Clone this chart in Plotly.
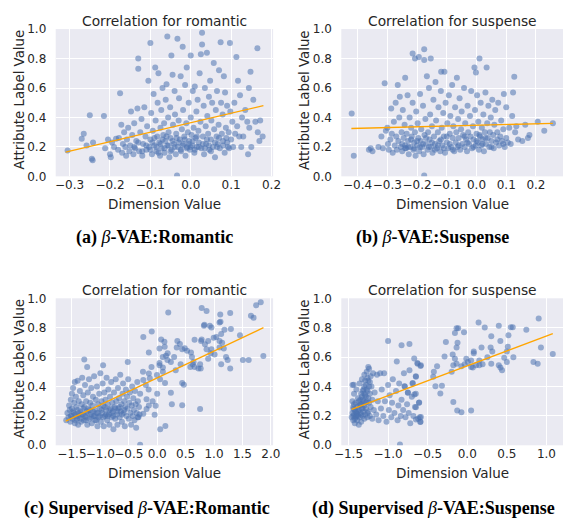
import plotly.graph_objects as go

W, H = 571, 525

# ---------------- data ----------------
a_points = [
    (-0.305,0.175),(-0.27,0.255),(-0.265,0.29),(-0.258,0.21),(-0.25,0.415),(-0.245,0.12),(-0.243,0.11),(-0.242,0.23),
    (-0.215,0.41),(-0.212,0.19),(-0.205,0.25),(-0.2,0.15),(-0.198,0.13),(-0.195,0.23),(-0.19,0.2),(-0.185,0.255),
    (-0.18,0.18),(-0.178,0.26),(-0.175,0.565),(-0.172,0.35),(-0.17,0.16),(-0.168,0.22),(-0.165,0.3),(-0.162,0.2),
    (-0.16,0.14),(-0.158,0.25),(-0.155,0.33),(-0.152,0.17),(-0.15,0.21),(-0.148,0.44),(-0.145,0.28),(-0.142,0.15),
    (-0.14,0.36),(-0.138,0.19),(-0.135,0.24),(-0.132,0.46),(-0.13,0.8),(-0.13,0.73),(-0.128,0.17),(-0.125,0.3),
    (-0.122,0.39),(-0.12,0.14),(-0.118,0.22),(-0.115,0.47),(-0.112,0.27),(-0.11,0.18),(-0.108,0.34),(-0.105,0.65),
    (-0.103,0.2),(-0.1,0.905),(-0.1,0.25),(-0.098,0.43),(-0.096,0.15),(-0.094,0.31),(-0.092,0.56),(-0.09,0.21),
    (-0.088,0.74),(-0.087,0.38),(-0.085,0.17),(-0.083,0.27),(-0.082,0.5),(-0.08,0.7),(-0.078,0.23),(-0.076,0.14),
    (-0.075,0.33),(-0.073,0.45),(-0.072,0.19),(-0.07,0.6),(-0.068,0.28),(-0.066,0.36),(-0.065,0.16),(-0.063,0.24),
    (-0.062,0.52),(-0.06,0.625),(-0.058,0.95),(-0.058,0.21),(-0.056,0.4),(-0.055,0.3),(-0.053,0.13),(-0.051,0.47),
    (-0.05,0.26),(-0.048,0.82),(-0.047,0.18),(-0.045,0.69),(-0.044,0.35),(-0.042,0.22),(-0.04,0.58),(-0.039,0.42),
    (-0.037,0.15),(-0.036,0.29),(-0.034,0.005),(-0.033,0.935),(-0.032,0.2),(-0.03,0.38),(-0.029,0.53),(-0.027,0.25),
    (-0.025,0.68),(-0.024,0.17),(-0.022,0.32),(-0.02,0.88),(-0.019,0.45),(-0.018,0.22),(-0.016,0.27),(-0.014,0.62),
    (-0.013,0.14),(-0.011,0.36),(-0.01,0.74),(-0.009,0.2),(-0.007,0.3),(-0.005,0.5),(-0.004,0.24),(-0.002,0.18),
    (0.0,0.82),(0.0,0.4),(0.002,0.28),(0.004,0.21),(0.005,0.58),(0.007,0.33),(0.009,0.16),(0.01,0.61),(0.012,0.26),
    (0.014,0.44),(0.015,0.2),(0.017,0.52),(0.019,0.31),(0.02,0.23),(0.022,0.7),(0.024,0.37),(0.025,0.83),(0.026,0.19),
    (0.028,0.975),(0.028,0.895),(0.03,0.27),(0.032,0.48),(0.033,0.15),(0.035,0.6),(0.037,0.34),(0.038,0.22),(0.04,0.84),
    (0.041,0.41),(0.043,0.29),(0.045,0.54),(0.046,0.18),(0.048,0.65),(0.05,0.25),(0.051,0.38),(0.053,0.5),(0.055,0.2),
    (0.057,0.77),(0.058,0.32),(0.06,0.13),(0.062,0.45),(0.064,0.27),(0.065,0.58),(0.067,0.22),(0.069,0.35),(0.07,0.72),
    (0.072,0.19),(0.074,0.91),(0.075,0.5),(0.077,0.29),(0.079,0.42),(0.08,0.24),(0.082,0.68),(0.084,0.16),(0.085,0.57),
    (0.087,0.33),(0.088,0.26),(0.09,0.48),(0.092,0.2),(0.094,0.3),(0.097,0.905),(0.098,0.44),(0.1,0.25),(0.103,0.37),
    (0.105,0.2),(0.108,0.5),(0.11,0.29),(0.113,0.81),(0.115,0.34),(0.117,0.65),(0.12,0.27),(0.122,0.55),(0.125,0.2),
    (0.127,0.4),(0.13,0.27),(0.135,0.45),(0.14,0.37),(0.142,0.15),(0.144,0.6),(0.145,0.33),(0.148,0.71),(0.15,0.2),
    (0.155,0.52),(0.16,0.37),(0.165,0.87),(0.166,0.3),(0.17,0.24),(0.172,0.38),(0.178,0.27),
    (-0.14,0.2),(-0.13,0.23),(-0.12,0.17),(-0.11,0.21),(-0.1,0.18),(-0.095,0.23),(-0.09,0.26),(-0.085,0.2),(-0.08,0.16),
    (-0.075,0.22),(-0.07,0.25),(-0.065,0.19),(-0.06,0.27),(-0.055,0.21),(-0.05,0.17),(-0.045,0.24),(-0.04,0.2),
    (-0.035,0.26),(-0.03,0.23),(-0.025,0.18),(-0.02,0.21),(-0.015,0.25),(-0.01,0.19),(-0.005,0.22),(0.0,0.2),
    (0.005,0.24),(0.01,0.18),(0.015,0.27),(0.02,0.2),(0.03,0.22),(0.035,0.19),(0.04,0.25),(0.045,0.21),(0.05,0.17),
    (0.06,0.23),(0.065,0.2),(0.07,0.26),(0.08,0.21),(0.09,0.23),(0.095,0.19),
]

b_points = [
    (-0.42,0.427),(-0.413,0.14),(-0.362,0.18),(-0.356,0.19),(-0.35,0.17),(-0.33,0.2),(-0.32,0.27),(-0.315,0.19),
    (-0.309,0.632),(-0.305,0.31),(-0.3,0.33),(-0.298,0.22),(-0.295,0.18),(-0.29,0.25),(-0.287,0.46),(-0.285,0.29),
    (-0.282,0.16),(-0.278,0.37),(-0.275,0.21),(-0.272,0.5),(-0.27,0.27),(-0.268,0.18),(-0.265,0.62),(-0.263,0.24),
    (-0.26,0.4),(-0.258,0.54),(-0.255,0.2),(-0.252,0.3),(-0.25,0.17),(-0.248,0.45),(-0.245,0.26),(-0.242,0.35),
    (-0.24,0.67),(-0.24,0.21),(-0.237,0.19),(-0.235,0.29),(-0.232,0.55),(-0.23,0.24),(-0.228,0.15),(-0.225,0.4),
    (-0.222,0.2),(-0.22,0.33),(-0.218,0.27),(-0.215,0.835),(-0.215,0.5),(-0.212,0.18),(-0.21,0.23),(-0.207,0.8),
    (-0.207,0.3),(-0.205,0.14),(-0.203,0.44),(-0.2,0.21),(-0.198,0.36),(-0.196,0.26),(-0.194,0.81),(-0.193,0.17),
    (-0.19,0.56),(-0.188,0.24),(-0.186,0.32),(-0.183,0.2),(-0.18,0.48),(-0.178,0.15),(-0.176,0.863),(-0.176,0.79),
    (-0.176,0.005),(-0.175,0.28),(-0.172,0.39),(-0.17,0.22),(-0.167,0.68),(-0.165,0.18),(-0.163,0.3),(-0.16,0.6),
    (-0.158,0.25),(-0.156,0.42),(-0.154,0.8),(-0.153,0.2),(-0.15,0.34),(-0.148,0.16),(-0.145,0.52),(-0.143,0.27),
    (-0.14,0.22),(-0.138,0.64),(-0.136,0.38),(-0.133,0.19),(-0.13,0.3),(-0.128,0.47),(-0.125,0.24),(-0.122,0.17),
    (-0.12,0.58),(-0.119,0.71),(-0.117,0.33),(-0.115,0.21),(-0.112,0.43),(-0.11,0.27),(-0.108,0.71),(-0.106,0.16),
    (-0.104,0.5),(-0.1,0.23),(-0.098,0.36),(-0.095,0.19),(-0.093,0.55),(-0.09,0.29),(-0.088,0.41),(-0.085,0.2),
    (-0.082,0.62),(-0.08,0.26),(-0.078,0.34),(-0.075,0.17),(-0.072,0.47),(-0.07,0.23),(-0.068,0.3),(-0.066,0.67),
    (-0.064,0.2),(-0.062,0.39),(-0.06,0.26),(-0.057,0.53),(-0.055,0.18),(-0.052,0.32),(-0.05,0.44),(-0.048,0.22),
    (-0.045,0.28),(-0.042,0.6),(-0.04,0.2),(-0.038,0.36),(-0.035,0.25),(-0.032,0.17),(-0.03,0.48),(-0.028,0.3),
    (-0.025,0.22),(-0.022,0.41),(-0.02,0.27),(-0.018,0.58),(-0.015,0.19),(-0.012,0.34),(-0.01,0.25),(-0.007,0.74),
    (-0.005,0.45),(-0.003,0.21),(-0.002,0.705),(0.0,0.29),(0.002,0.55),(0.004,0.23),(0.006,0.37),(0.008,0.18),
    (0.01,0.8),(0.012,0.27),(0.014,0.5),(0.016,0.21),(0.018,0.33),(0.02,0.25),(0.023,0.42),(0.025,0.17),(0.028,0.3),
    (0.03,0.57),(0.032,0.22),(0.034,0.74),(0.036,0.36),(0.038,0.26),(0.04,0.48),(0.043,0.2),(0.045,0.3),(0.048,0.4),
    (0.05,0.24),(0.053,0.52),(0.056,0.28),(0.058,0.19),(0.06,0.35),(0.063,0.45),(0.066,0.23),(0.07,0.3),(0.073,0.5),
    (0.076,0.21),(0.08,0.27),(0.083,0.38),(0.086,0.24),(0.09,0.32),(0.092,0.56),(0.095,0.2),(0.1,0.47),(0.1,0.26),
    (0.105,0.23),(0.11,0.33),(0.115,0.22),(0.12,0.41),(0.123,0.57),(0.127,0.676),(0.13,0.3),(0.134,0.34),(0.14,0.25),
    (0.154,0.24),(0.164,0.35),(0.173,0.26),(0.178,0.28),(0.206,0.37),(0.228,0.31),(0.257,0.36),
    (-0.25,0.22),(-0.24,0.19),(-0.23,0.2),(-0.22,0.25),(-0.21,0.19),(-0.2,0.24),(-0.19,0.2),(-0.18,0.22),(-0.17,0.26),
    (-0.16,0.2),(-0.15,0.23),(-0.14,0.18),(-0.13,0.21),(-0.12,0.25),(-0.11,0.19),(-0.1,0.27),(-0.09,0.22),(-0.08,0.18),
    (-0.06,0.21),(-0.04,0.27),(-0.03,0.23),(-0.01,0.2),(0.0,0.24),(0.01,0.28),(0.02,0.22),(0.03,0.26),(0.05,0.2),
    (0.07,0.25),(0.09,0.22),
]

c_points = [
    (-1.6,0.17),(-1.283,0.584),(-1.232,0.533),(-0.952,0.544),(-0.518,0.566),(-0.3,0.004),(-0.244,0.736),(-0.096,0.775),
    (-0.147,0.489),(-0.045,0.207),(0.053,0.11),(0.144,0.132),(-0.027,0.269),(0.195,0.903),(0.132,0.67),(0.138,0.423),
    (0.241,0.357),(0.258,0.28),(0.44,0.273),(0.44,0.423),(0.469,0.412),(0.355,0.709),(0.658,0.718),(0.783,0.934),
    (0.869,0.914),(0.823,0.813),(0.772,0.709),(0.755,0.247),(0.766,0.522),(1.097,0.835),(1.285,0.9),(1.11,0.89),
    (1.457,0.749),(1.65,0.881),(1.696,0.868),(1.742,0.952),(1.822,0.974),(1.868,0.608),(1.508,0.581),(1.61,0.581),
    (1.285,0.522),(1.126,0.551),
    (-0.147,0.632),(0.07,0.72),(0.127,0.705),(0.041,0.659),(0.098,0.6),(0.155,0.61),(0.184,0.626),(0.041,0.56),
    (0.041,0.544),(0.1,0.53),(-0.1,0.533),(-0.004,0.478),(-0.13,0.456),(-0.244,0.445),(-0.187,0.313),(-0.147,0.27),
    (-0.187,0.247),(-0.244,0.214),(-0.341,0.19),(0.241,0.566),(0.298,0.6),(0.344,0.665),(0.4,0.69),(0.44,0.654),
    (0.486,0.661),(0.526,0.643),(0.326,0.511),(0.412,0.551),(0.595,0.632),(0.612,0.6),(0.623,0.551),(0.583,0.533),
    (0.64,0.566),(0.658,0.533),(0.726,0.522),(0.755,0.551),(0.783,0.72),(0.84,0.687),(0.897,0.709),(0.869,0.654),
    (0.94,0.626),(0.897,0.588),(0.83,0.82),(0.926,0.813),(0.954,0.802),(0.994,0.731),(1.04,0.736),(0.954,0.654),
    (1.01,0.617),(1.097,0.709),(1.143,0.698),(1.097,0.665),(1.172,0.659),(1.183,0.786),(1.126,0.758),(1.212,0.6),
    (1.24,0.581),(1.297,0.791),(1.114,0.84),
    (-1.58,0.22),(-1.56,0.19),(-1.55,0.27),(-1.54,0.24),(-1.53,0.16),(-1.52,0.31),(-1.51,0.2),(-1.5,0.35),(-1.5,0.25),
    (-1.49,0.18),(-1.48,0.39),(-1.47,0.22),(-1.46,0.29),(-1.45,0.15),(-1.45,0.43),(-1.44,0.21),(-1.43,0.33),
    (-1.42,0.26),(-1.41,0.18),(-1.4,0.44),(-1.4,0.24),(-1.39,0.14),(-1.38,0.3),(-1.37,0.2),(-1.36,0.37),(-1.35,0.23),
    (-1.34,0.16),(-1.33,0.28),(-1.32,0.46),(-1.31,0.21),(-1.3,0.34),(-1.29,0.17),(-1.28,0.26),(-1.27,0.41),(-1.26,0.19),
    (-1.25,0.3),(-1.24,0.23),(-1.23,0.14),(-1.22,0.36),(-1.21,0.25),(-1.2,0.45),(-1.19,0.18),(-1.18,0.29),(-1.17,0.21),
    (-1.16,0.39),(-1.15,0.15),(-1.14,0.27),(-1.13,0.33),(-1.12,0.2),(-1.11,0.47),(-1.1,0.24),(-1.09,0.17),(-1.08,0.31),
    (-1.07,0.22),(-1.06,0.4),(-1.05,0.13),(-1.04,0.28),(-1.03,0.19),(-1.02,0.35),(-1.01,0.25),(-1.0,0.49),(-0.99,0.16),
    (-0.98,0.3),(-0.97,0.22),(-0.96,0.42),(-0.95,0.27),(-0.94,0.13),(-0.93,0.36),(-0.92,0.2),(-0.91,0.31),(-0.9,0.24),
    (-0.89,0.46),(-0.88,0.17),(-0.87,0.28),(-0.86,0.38),(-0.85,0.21),(-0.84,0.14),(-0.83,0.33),(-0.82,0.25),(-0.81,0.43),
    (-0.8,0.19),(-0.79,0.29),(-0.78,0.23),(-0.77,0.11),(-0.76,0.36),(-0.75,0.26),(-0.74,0.18),(-0.73,0.45),(-0.72,0.3),
    (-0.71,0.21),(-0.7,0.14),(-0.69,0.39),(-0.68,0.25),(-0.67,0.32),(-0.66,0.19),(-0.65,0.48),(-0.64,0.23),(-0.63,0.28),
    (-0.62,0.16),(-0.61,0.35),(-0.6,0.42),(-0.59,0.22),(-0.58,0.3),(-0.57,0.13),(-0.56,0.26),(-0.55,0.38),(-0.54,0.2),
    (-0.53,0.33),(-0.52,0.25),(-0.51,0.45),(-0.5,0.18),(-0.49,0.29),(-0.48,0.36),(-0.47,0.22),(-0.46,0.14),(-0.45,0.27),
    (-0.44,0.4),(-0.43,0.2),(-0.42,0.32),(-0.41,0.24),(-0.4,0.17),(-0.39,0.37),(-0.38,0.28),(-0.37,0.12),(-0.36,0.22),
    (-0.35,0.43),(-0.34,0.3),(-0.33,0.19),(-0.32,0.26),(-0.31,0.21),(-0.3,0.35),
    (-1.52,0.2),(-1.48,0.23),(-1.44,0.17),(-1.42,0.2),(-1.38,0.22),(-1.35,0.18),(-1.33,0.21),(-1.3,0.25),(-1.27,0.2),
    (-1.25,0.17),(-1.22,0.22),(-1.19,0.24),(-1.16,0.19),(-1.13,0.23),(-1.1,0.2),(-1.07,0.17),(-1.04,0.22),(-1.01,0.2),
    (-0.98,0.24),(-0.95,0.19),(-0.92,0.26),(-0.9,0.21),(-0.87,0.2),(-0.84,0.24),(-0.8,0.22),(-0.77,0.2),(-0.74,0.25),
    (-0.7,0.23),(-0.66,0.26),(-0.62,0.21),(-0.58,0.24),
    (-0.25,0.5),(-0.2,0.41),(-0.15,0.38),(-0.08,0.3),(0.0,0.35),(0.05,0.45),(0.1,0.5),(0.18,0.58),
]

d_points = [
    (-1.46,0.19),(-1.45,0.22),(-1.45,0.3),(-1.44,0.17),(-1.44,0.26),(-1.43,0.21),(-1.43,0.35),(-1.42,0.15),(-1.42,0.24),
    (-1.41,0.19),(-1.41,0.29),(-1.4,0.22),(-1.4,0.38),(-1.39,0.17),(-1.39,0.26),(-1.38,0.2),(-1.38,0.32),(-1.37,0.14),
    (-1.37,0.24),(-1.36,0.42),(-1.36,0.19),(-1.35,0.28),(-1.35,0.22),(-1.34,0.35),(-1.34,0.16),(-1.33,0.25),(-1.33,0.45),
    (-1.32,0.2),(-1.32,0.31),(-1.31,0.38),(-1.31,0.23),(-1.3,0.48),(-1.3,0.18),(-1.3,0.27),(-1.29,0.34),(-1.29,0.21),
    (-1.28,0.41),(-1.28,0.25),(-1.27,0.5),(-1.27,0.3),(-1.26,0.19),(-1.26,0.37),(-1.25,0.44),(-1.25,0.23),(-1.24,0.52),
    (-1.24,0.29),(-1.23,0.35),(-1.23,0.2),(-1.22,0.47),(-1.22,0.26),(-1.21,0.4),(-1.2,0.31),(-1.2,0.18),(-1.19,0.49),
    (-1.18,0.24),(-1.17,0.36),
    (-1.44,0.2),(-1.42,0.18),(-1.4,0.2),(-1.38,0.23),(-1.36,0.27),(-1.35,0.31),(-1.34,0.28),(-1.33,0.33),(-1.32,0.37),
    (-1.31,0.3),(-1.3,0.4),(-1.29,0.44),(-1.28,0.33),(-1.27,0.38),(-1.26,0.46),(-1.25,0.32),(-1.24,0.4),(-1.23,0.43),
    (-1.41,0.23),(-1.39,0.21),(-1.37,0.3),(-1.43,0.28),(-1.45,0.41),(-1.34,0.21),(-1.32,0.25),(-1.3,0.35),(-1.28,0.29),
    (-1.26,0.22),(-1.439,0.247),(-1.434,0.412),(-1.25,0.533),
    (-1.15,0.21),(-1.14,0.48),(-1.13,0.3),(-1.12,0.17),(-1.1,0.49),(-1.09,0.25),(-1.08,0.38),(-1.06,0.2),(-1.05,0.49),
    (-1.04,0.3),(-1.02,0.16),(-1.0,0.41),(-1.0,0.71),(-0.99,0.24),(-0.98,0.34),(-0.96,0.19),(-0.95,0.29),(-0.94,0.45),
    (-0.92,0.22),(-0.9,0.37),(-0.89,0.57),(-0.88,0.17),(-0.87,0.27),(-0.86,0.42),(-0.85,0.005),(-0.84,0.2),(-0.83,0.68),
    (-0.83,0.31),(-0.81,0.24),(-0.8,0.49),(-0.79,0.4),(-0.78,0.19),(-0.76,0.28),(-0.75,0.36),(-0.74,0.22),(-0.73,0.69),
    (-0.73,0.51),(-0.72,0.15),(-0.7,0.33),(-0.69,0.42),(-0.68,0.2),(-0.67,0.59),(-0.66,0.26),(-0.65,0.35),(-0.65,0.47),
    (-0.63,0.56),(-0.62,0.18),(-0.61,0.29),(-0.6,0.19),(-0.59,0.54),(-0.59,0.16),
    (-0.627,0.555),(-0.586,0.544),(-0.648,0.467),(-0.689,0.423),(-0.668,0.346),(-0.75,0.357),(-0.791,0.401),
    (-0.607,0.291),(-0.648,0.258),(-0.586,0.192),(-0.594,0.159),(-0.648,0.176),
    (-0.381,0.537),(-0.402,0.401),(-0.32,0.405),(-0.34,0.352),(-0.422,0.5),(-0.43,0.467),(-0.27,0.703),(-0.287,0.604),
    (-0.184,0.617),(-0.156,0.588),(-0.176,0.295),(-0.127,0.236),(-0.074,0.225),(0.049,0.236),(-0.156,0.764),
    (-0.135,0.797),(-0.115,0.797),(-0.041,0.769),(-0.123,0.698),(-0.135,0.665),(-0.197,0.5),(-0.176,0.544),
    (-0.135,0.555),(-0.074,0.537),(-0.033,0.551),(0.008,0.566),(0.049,0.577),(0.082,0.639),(0.082,0.626),(0.049,0.533),
    (0.07,0.529),(0.111,0.544),(0.143,0.835),(0.221,0.802),(0.18,0.665),(0.152,0.577),(0.193,0.551),(0.152,0.544),
    (0.254,0.599),(0.303,0.555),(0.398,0.813),(0.418,0.709),(0.303,0.742),(0.295,0.665),(0.316,0.639),(0.398,0.544),
    (0.418,0.529),(0.439,0.511),(0.467,0.595),(0.5,0.566),(0.52,0.749),(0.549,0.804),(0.574,0.804),(0.512,0.67),
    (0.5,0.639),(0.582,0.599),(0.746,0.786),(0.836,0.566),(0.889,0.555),(0.902,0.863),(0.93,0.665),(1.08,0.621),
    (-0.012,0.588),
]

# regression line end points (as drawn in the reference)
a_fit_x, a_fit_y = [-0.31, 0.18], [0.165, 0.48]
b_fit_x, b_fit_y = [-0.421, 0.257], [0.325, 0.36]
c_fit_x, c_fit_y = [-1.61, 1.87], [0.165, 0.80]
d_fit_x, d_fit_y = [-1.46, 1.08], [0.245, 0.76]

a_ticks = [-0.3, -0.2, -0.1, 0.0, 0.1, 0.2]
b_ticks = [-0.4, -0.3, -0.2, -0.1, 0.0, 0.1, 0.2]
c_ticks = [-1.5, -1.0, -0.5, 0.0, 0.5, 1.0, 1.5, 2.0]
d_ticks = [-1.5, -1.0, -0.5, 0.0, 0.5, 1.0]
y_ticks = [0.0, 0.2, 0.4, 0.6, 0.8, 1.0]

titles = ["Correlation for romantic", "Correlation for suspense",
          "Correlation for romantic", "Correlation for suspense"]
captions = ["<b>(a) </b><i>β</i><b>-VAE:Romantic</b>",
            "<b>(b) </b><i>β</i><b>-VAE:Suspense</b>",
            "<b>(c) Supervised </b><i>β</i><b>-VAE:Romantic</b>",
            "<b>(d) Supervised </b><i>β</i><b>-VAE:Suspense</b>"]

# ---------------- layout geometry (pixels) ----------------
panels = [
    dict(pts=a_points, fx=a_fit_x, fy=a_fit_y, ticks=a_ticks, xr=[-0.3345, 0.204], box=(50, 273.3, 22.7, 174), cap=(151, 237)),
    dict(pts=b_points, fx=b_fit_x, fy=b_fit_y, ticks=b_ticks, xr=[-0.455, 0.291], box=(343.3, 571, 22.7, 174), cap=(437, 237)),
    dict(pts=c_points, fx=c_fit_x, fy=c_fit_y, ticks=c_ticks, xr=[-1.786, 2.04], box=(50, 273.3, 299.3, 450.3), cap=(144, 515)),
    dict(pts=d_points, fx=d_fit_x, fy=d_fit_y, ticks=d_ticks, xr=[-1.591, 1.209], box=(343.3, 571, 299.3, 450.3), cap=(438, 515)),
]

def px(x):
    return x / W

def py(y):
    return 1 - y / H

def fmt(v):
    s = f"{abs(v):.1f}"
    return ("\u2212" + s) if v < 0 else s

TXT = "#262626"
FONT = "DejaVu Sans"

fig = go.Figure()
annotations = []
layout = {}
for i, p in enumerate(panels):
    n = "" if i == 0 else str(i + 1)
    xa, ya = "x" + n, "y" + n
    xs = [q[0] for q in p["pts"]]
    ys = [q[1] for q in p["pts"]]
    fig.add_trace(go.Scatter(x=xs, y=ys, mode="markers", xaxis=xa, yaxis=ya,
                             marker=dict(color="#4C72B0", size=6, opacity=0.55, line=dict(width=0)),
                             showlegend=False, hoverinfo="skip"))
    fig.add_trace(go.Scatter(x=p["fx"], y=p["fy"], mode="lines", xaxis=xa, yaxis=ya,
                             line=dict(color="#FFA500", width=1.3), showlegend=False, hoverinfo="skip"))
    x0, x1, y0, y1 = p["box"]
    common = dict(showgrid=True, gridcolor="white", gridwidth=1, zeroline=False, showline=False,
                  tickangle=0, tickfont=dict(family=FONT, size=12, color=TXT))
    layout["xaxis" + n] = dict(common, domain=[px(x0), px(x1)], anchor=ya, range=p["xr"], ticks="",
                               tickmode="array", tickvals=p["ticks"], ticktext=[fmt(v) for v in p["ticks"]])
    layout["yaxis" + n] = dict(common, domain=[py(y1), py(y0)], anchor=xa, range=[0, 1],
                               ticks="outside", ticklen=6, tickcolor="rgba(0,0,0,0)",
                               tickmode="array", tickvals=y_ticks, ticktext=[fmt(v) for v in y_ticks])
    cx = (x0 + x1) / 2
    annotations.append(dict(text=titles[i], x=px(cx), y=py(y0 - 8.5), xref="paper", yref="paper",
                            showarrow=False, xanchor="center", yanchor="middle",
                            font=dict(family=FONT, size=13.8, color=TXT)))
    annotations.append(dict(text="Dimension Value", x=px(cx), y=py(y1 + 28), xref="paper", yref="paper",
                            showarrow=False, xanchor="center", yanchor="middle",
                            font=dict(family=FONT, size=13.5, color=TXT)))
    annotations.append(dict(text="Attribute Label Value", x=px(x0 - 37), y=py((y0 + y1) / 2 - 3),
                            xref="paper", yref="paper", textangle=-90,
                            showarrow=False, xanchor="center", yanchor="middle",
                            font=dict(family=FONT, size=13.3, color=TXT)))
    annotations.append(dict(text=captions[i], x=px(p["cap"][0]), y=py(p["cap"][1]), xref="paper", yref="paper",
                            showarrow=False, xanchor="center", yanchor="middle",
                            font=dict(family="Liberation Serif", size=18, color="#000000")))

fig.update_layout(width=W, height=H, margin=dict(l=0, r=0, t=0, b=0),
                  paper_bgcolor="white", plot_bgcolor="#EAEAF2",
                  annotations=annotations, **layout)

fig.write_html("out.html")
